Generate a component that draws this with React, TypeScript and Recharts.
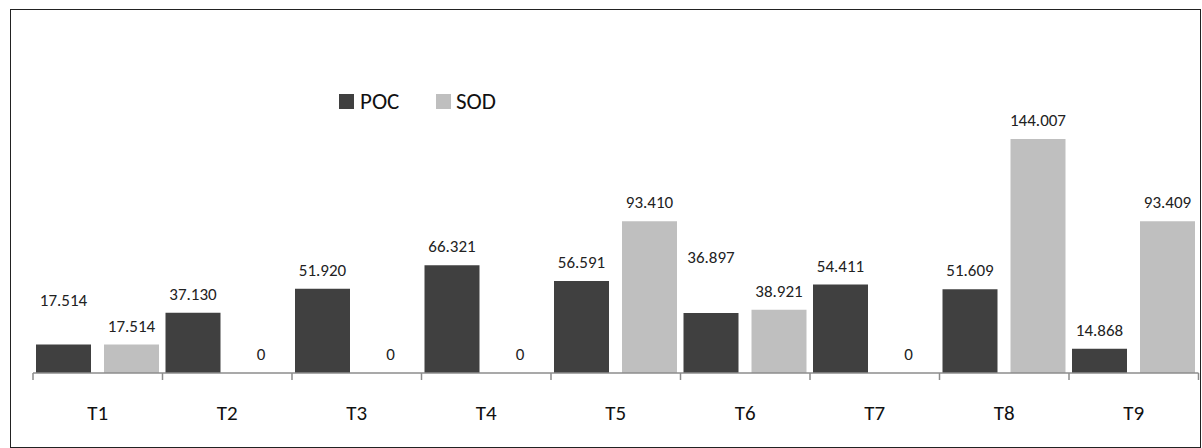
import React from "react";
import { BarChart, Bar, XAxis, YAxis, LabelList, Legend } from "recharts";

const CATEGORIES = ["T1", "T2", "T3", "T4", "T5", "T6", "T7", "T8", "T9"];
const POC = [17.514, 37.13, 51.92, 66.321, 56.591, 36.897, 54.411, 51.609, 14.868];
const SOD = [17.514, 0, 0, 0, 93.41, 38.921, 0, 144.007, 93.409];

// extra label lift (style only) for labels Excel displaced
const POC_LIFT = [26, 0, 0, 0, 0, 37, 0, 0, 0];

const data = CATEGORIES.map((c, i) => ({ name: c, POC: POC[i], SOD: SOD[i] }));

const W = 1202;
const H = 448;
const LEFT = 33;
const RIGHT = 1198.5;
const PLOT_W = RIGHT - LEFT;
const AXIS_Y = 373;
const TOP = 113;
const XAXIS_H = 40;
const FONT = "Carlito, Lato, 'Open Sans', sans-serif";

const fmt = (v: number) => (v === 0 ? "0" : v.toFixed(3));

const makeLabel = (values: number[], lift: number[] | null) => (props: any) => {
  const { x, y, width, index } = props;
  const l = lift ? lift[index] : 0;
  return (
    <text
      x={Number(x) + Number(width) / 2}
      y={Number(y) - 13 - l}
      textAnchor="middle"
      fontSize={17}
      fontFamily={FONT}
      fill="#222"
    >
      {fmt(values[index])}
    </text>
  );
};

const CatTick = (props: any) => {
  const { x, payload, index } = props;
  const band = PLOT_W / CATEGORIES.length;
  const ay = AXIS_Y;
  return (
    <g>
      <line x1={x - band / 2} x2={x - band / 2} y1={ay} y2={ay + 7} stroke="#8c8c8c" strokeWidth={1.5} />
      {index === CATEGORIES.length - 1 && (
        <line x1={x + band / 2} x2={x + band / 2} y1={ay} y2={ay + 7} stroke="#8c8c8c" strokeWidth={1.5} />
      )}
      <text x={x} y={ay + 47} textAnchor="middle" fontSize={21} fontFamily={FONT} fill="#111">
        {payload.value}
      </text>
    </g>
  );
};

const LegendContent = () => (
  <div style={{ display: "flex", alignItems: "center", fontFamily: FONT, fontSize: 23, color: "#111" }}>
    <span style={{ width: 15, height: 15, background: "#404040", display: "inline-block" }} />
    <span style={{ marginLeft: 6, width: 76 }}>POC</span>
    <span style={{ width: 15, height: 15, background: "#bfbfbf", display: "inline-block" }} />
    <span style={{ marginLeft: 5 }}>SOD</span>
  </div>
);

export default function App() {
  return (
    <div style={{ position: "absolute", left: 0, top: 0, width: W, height: H, background: "#fff" }}>
      <div
        style={{
          position: "absolute",
          left: 10,
          top: 9,
          width: 1189,
          height: 437,
          border: "1px solid #222",
        }}
      />
      <div style={{ position: "absolute", left: 0, top: 0 }}>
        <BarChart
          width={W}
          height={H}
          data={data}
          margin={{ top: TOP, left: LEFT, right: W - RIGHT, bottom: H - AXIS_Y - XAXIS_H }}
          barCategoryGap={3}
          barGap={13}
        >
          <XAxis
            dataKey="name"
            height={XAXIS_H}
            axisLine={{ stroke: "#8c8c8c", strokeWidth: 1.5 }}
            tickLine={false}
            tick={<CatTick />}
            interval={0}
          />
          <YAxis hide domain={[0, 160]} />
          <Legend
            layout="horizontal"
            verticalAlign="middle"
            align="center"
            content={<LegendContent />}
            wrapperStyle={{ position: "absolute", left: 339, top: 87, width: 220 }}
          />
          <Bar dataKey="POC" fill="#404040" barSize={55} isAnimationActive={false}>
            <LabelList dataKey="POC" content={makeLabel(POC, POC_LIFT)} />
          </Bar>
          <Bar dataKey="SOD" fill="#bfbfbf" barSize={55} minPointSize={0.01} isAnimationActive={false}>
            <LabelList dataKey="SOD" content={makeLabel(SOD, null)} />
          </Bar>
        </BarChart>
      </div>
    </div>
  );
}
